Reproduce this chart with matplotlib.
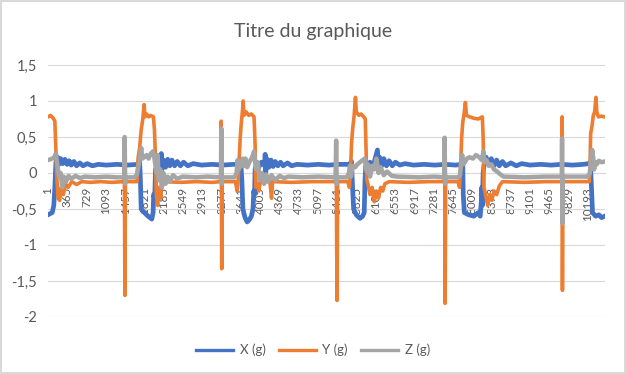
import matplotlib
matplotlib.use("Agg")
import matplotlib.pyplot as plt
from matplotlib.lines import Line2D

plt.rcParams['font.family'] = ['Lato', 'DejaVu Sans']

# values, as (sample index, value) breakpoints
x_idx = [1, 80, 110, 130, 150, 180, 210, 240, 280, 320, 360, 400, 440, 490, 540, 600, 660, 740, 840, 950,
         1100, 1300, 1500, 1690, 1730, 1745, 1760, 1820, 1890, 1960, 1985, 1995, 2015, 2030, 2070, 2120,
         2140, 2150, 2180, 2220, 2260, 2300, 2340, 2390, 2440, 2500, 2560, 2640, 2740, 2900, 3100, 3300,
         3500, 3600, 3640, 3660, 3680, 3720, 3760, 3800, 3840, 3870, 3885, 3900, 3910, 3940, 3980, 4030,
         4090, 4100, 4110, 4130, 4170, 4210, 4250, 4290, 4340, 4390, 4440, 4520, 4600, 4700, 4900, 5100,
         5300, 5500, 5690, 5730, 5750, 5770, 5820, 5890, 5940, 5970, 5985, 6000, 6030, 6080, 6140, 6220,
         6235, 6260, 6300, 6340, 6390, 6440, 6500, 6560, 6640, 6740, 6900, 7100, 7300, 7500, 7700, 7800,
         7830, 7840, 7860, 7940, 8040, 8120, 8160, 8180, 8190, 8200, 8215, 8230, 8270, 8320, 8370, 8420,
         8470, 8520, 8580, 8640, 8740, 8840, 8940, 9100, 9300, 9500, 9700, 9900, 10100, 10210, 10240,
         10260, 10280, 10340, 10400, 10450, 10510]
x_val = [-0.58, -0.55, -0.45, -0.2, 0.15, 0.22, 0.12, 0.2, 0.13, 0.19, 0.12, 0.17, 0.11, 0.16, 0.1, 0.14,
         0.1, 0.13, 0.1, 0.12, 0.11, 0.12, 0.11, 0.12, 0.17, -0.1, -0.5, -0.55, -0.6, -0.64, -0.55, -0.3,
         -0.35, 0.05, 0.1, 0.15, 0.27, 0.05, 0.18, 0.08, 0.19, 0.1, 0.18, 0.1, 0.16, 0.1, 0.15, 0.1, 0.13,
         0.11, 0.12, 0.11, 0.12, 0.12, 0.15, -0.1, -0.5, -0.62, -0.68, -0.65, -0.6, -0.5, -0.25, -0.3, 0.05,
         0.12, 0.08, 0.15, 0.1, 0.26, 0.0, 0.2, 0.08, 0.18, 0.09, 0.16, 0.1, 0.15, 0.1, 0.14, 0.1, 0.12,
         0.11, 0.12, 0.11, 0.12, 0.12, 0.16, -0.2, -0.5, -0.58, -0.63, -0.6, -0.55, -0.1, 0.1, 0.05, 0.15,
         0.1, 0.32, 0.1, 0.22, 0.1, 0.2, 0.1, 0.17, 0.1, 0.15, 0.11, 0.13, 0.11, 0.12, 0.11, 0.12, 0.11,
         0.12, 0.15, -0.3, -0.55, -0.58, -0.6, -0.55, -0.6, -0.4, -0.2, -0.45, 0.0, 0.1, 0.22, 0.12, 0.2,
         0.1, 0.18, 0.1, 0.16, 0.1, 0.14, 0.1, 0.13, 0.11, 0.12, 0.11, 0.12, 0.11, 0.12, 0.13, 0.15, -0.2,
         -0.55, -0.6, -0.58, -0.62, -0.6]

y_idx = [1, 50, 100, 130, 150, 170, 190, 220, 250, 290, 330, 380, 450, 540, 640, 800, 1000, 1200, 1430,
         1440, 1452, 1462, 1680, 1700, 1730, 1760, 1790, 1815, 1830, 1860, 1900, 1940, 1990, 2010, 2030,
         2045, 2070, 2100, 2130, 2150, 2190, 2500, 2800, 3100, 3260, 3270, 3280, 3290, 3540, 3570, 3590,
         3610, 3630, 3650, 3670, 3685, 3700, 3740, 3790, 3840, 3890, 3910, 3925, 3950, 3980, 4010, 4190,
         4220, 4240, 4600, 5000, 5430, 5440, 5450, 5458, 5468, 5660, 5690, 5710, 5730, 5750, 5780, 5805,
         5820, 5870, 5910, 5960, 5990, 6005, 6020, 6040, 6080, 6120, 6160, 6200, 6240, 6280, 6320, 6360,
         6440, 6800, 7200, 7480, 7488, 7498, 7508, 7740, 7770, 7790, 7810, 7830, 7860, 7880, 7900, 7960,
         8040, 8120, 8200, 8215, 8230, 8260, 8300, 8340, 8380, 8420, 8470, 8520, 8580, 9000, 9400, 9700,
         9705, 9712, 9720, 10220, 10235, 10245, 10270, 10295, 10320, 10345, 10360, 10390, 10450, 10510]
y_val = [0.78, 0.8, 0.76, 0.72, 0.3, -0.1, -0.35, -0.38, -0.2, -0.3, -0.15, -0.2, -0.12, -0.16, -0.12,
         -0.13, -0.12, -0.13, -0.12, 0.48, -1.7, -0.12, -0.12, 0.2, 0.35, 0.6, 0.75, 0.95, 0.78, 0.82, 0.78,
         0.8, 0.78, 0.6, 0.2, -0.3, -0.45, -0.2, -0.35, -0.15, -0.12, -0.13, -0.12, -0.13, -0.12, 0.72,
         -1.33, -0.12, -0.12, -0.25, -0.1, 0.2, 0.5, 0.7, 0.85, 1.0, 0.8, 0.85, 0.8, 0.82, 0.78, 0.4, -0.2,
         -0.15, -0.25, -0.12, -0.12, -0.35, -0.12, -0.13, -0.12, -0.12, 0.43, -1.0, -1.77, -0.12, -0.12,
         -0.2, 0.0, 0.4, 0.6, 0.8, 1.05, 0.85, 0.8, 0.82, 0.78, 0.75, 0.3, -0.1, -0.15, -0.3, -0.2, -0.4,
         -0.25, -0.35, -0.2, -0.25, -0.15, -0.12, -0.13, -0.12, -0.12, 0.49, -1.81, -0.12, -0.12, -0.2, 0.1,
         0.5, 0.7, 0.85, 0.98, 0.8, 0.78, 0.76, 0.75, 0.78, 0.5, -0.2, -0.3, -0.45, -0.3, -0.38, -0.25,
         -0.3, -0.18, -0.12, -0.13, -0.12, -0.12, 0.78, -1.63, -0.12, -0.12, 0.2, 0.55, 0.65, 0.8, 0.85,
         1.05, 0.85, 0.78, 0.79, 0.78]

z_idx = [1, 80, 120, 150, 170, 190, 210, 240, 270, 300, 340, 390, 440, 520, 600, 700, 900, 1100, 1300,
         1440, 1448, 1458, 1468, 1640, 1680, 1710, 1740, 1760, 1780, 1820, 1860, 1900, 1940, 1980, 2000,
         2030, 2050, 2070, 2090, 2120, 2150, 2180, 2220, 2260, 2300, 2360, 2440, 2540, 2800, 3000, 3265,
         3272, 3280, 3290, 3520, 3560, 3580, 3600, 3640, 3680, 3700, 3730, 3760, 3800, 3840, 3870, 3890,
         3910, 3930, 3960, 4000, 4040, 4080, 4120, 4160, 4220, 4290, 4370, 4460, 4540, 4800, 5100, 5430,
         5440, 5450, 5460, 5640, 5680, 5700, 5720, 5740, 5770, 5800, 5840, 5890, 5940, 5980, 6000, 6020,
         6040, 6080, 6120, 6160, 6200, 6240, 6280, 6340, 6400, 6490, 6590, 7000, 7300, 7480, 7488, 7498,
         7508, 7740, 7780, 7800, 7820, 7840, 7870, 7910, 7960, 8020, 8080, 8140, 8190, 8220, 8240, 8280,
         8320, 8370, 8420, 8480, 8540, 8600, 9000, 9400, 9700, 9705, 9712, 9720, 10190, 10230, 10250,
         10275, 10295, 10310, 10330, 10360, 10400, 10450, 10510]
z_val = [0.18, 0.2, 0.22, 0.27, 0.15, 0.05, -0.05, 0.0, -0.2, -0.05, -0.12, -0.04, -0.08, -0.04, -0.07,
         -0.05, -0.06, -0.05, -0.06, -0.06, 0.5, -0.15, -0.06, -0.06, -0.02, 0.1, 0.22, 0.35, 0.2, 0.22,
         0.25, 0.2, 0.27, 0.3, 0.25, 0.1, 0.0, 0.25, -0.1, 0.05, -0.2, 0.0, -0.15, -0.05, -0.12, -0.03,
         -0.08, -0.05, -0.06, -0.05, -0.06, 0.62, -0.15, -0.06, -0.06, 0.0, 0.18, 0.05, 0.1, 0.2, 0.1, 0.2,
         0.08, 0.15, 0.2, 0.25, 0.3, 0.15, 0.05, 0.15, -0.1, 0.0, -0.15, -0.02, -0.12, -0.03, -0.1, -0.04,
         -0.07, -0.05, -0.06, -0.05, -0.06, 0.45, -0.15, -0.06, -0.06, 0.0, 0.1, -0.05, 0.05, 0.1, 0.08,
         0.12, 0.15, 0.18, 0.2, 0.1, 0.02, 0.12, -0.05, 0.1, 0.05, 0.2, 0.0, 0.08, -0.03, 0.02, -0.04,
         -0.05, -0.06, -0.05, -0.06, 0.49, -0.15, -0.06, -0.06, -0.03, 0.15, 0.25, 0.12, 0.15, 0.2, 0.22,
         0.2, 0.25, 0.22, 0.18, 0.3, 0.15, 0.18, 0.1, 0.12, 0.05, 0.02, -0.02, -0.05, -0.06, -0.05, -0.05,
         0.48, -0.7, -0.05, -0.05, 0.0, 0.2, 0.32, 0.2, 0.05, 0.15, 0.12, 0.17, 0.15, 0.16]

n_samples = 10515
xtick_pos = list(range(1, n_samples, 364))
ytick_vals = [-2, -1.5, -1, -0.5, 0, 0.5, 1, 1.5]
ytick_labels = ["-2", "-1,5", "-1", "-0,5", "0", "0,5", "1", "1,5"]
series_names = ["X (g)", "Y (g)", "Z (g)"]
colors = ["#4472C4", "#ED7D31", "#A5A5A5"]

fig = plt.figure(figsize=(6.26, 3.74), dpi=100)
fig.patch.set_edgecolor("#D9D9D9")
fig.patch.set_linewidth(1.5)
ax = fig.add_axes([48 / 626, 1 - 317 / 374, 557 / 626, 252 / 374])

ax.plot(x_idx, x_val, color=colors[0], lw=3.4, solid_joinstyle="round")
ax.plot(y_idx, y_val, color=colors[1], lw=2.6, solid_joinstyle="round")
ax.plot(z_idx, z_val, color=colors[2], lw=3.2, solid_joinstyle="round")

# category axis crosses at 0 (set before labels, it resets the ticks)
for s in ["top", "right", "left"]:
    ax.spines[s].set_visible(False)
ax.spines["bottom"].set_position(("data", 0))
ax.spines["bottom"].set_color("#D9D9D9")
ax.spines["bottom"].set_zorder(0.5)

ax.set_xlim(0.5, n_samples + 0.5)
ax.set_ylim(-2, 1.5)
ax.set_yticks(ytick_vals)
ax.set_yticklabels(ytick_labels)
ax.set_xticks(xtick_pos)
ax.set_xticklabels([str(p) for p in xtick_pos])

ax.grid(axis="y", color="#D9D9D9", lw=0.8)
ax.set_axisbelow(True)
ax.tick_params(axis="both", length=0, labelcolor="#595959")
ax.tick_params(axis="x", pad=10, labelrotation=90, labelsize=8.4)
ax.tick_params(axis="y", pad=8, labelsize=10.5)

fig.text(0.5, 1 - 31 / 374, "Titre du graphique", ha="center", va="center",
         fontsize=14, color="#595959")

handles = [Line2D([0], [0], color=c, lw=2.4) for c in colors]
fig.legend(handles, series_names, loc="center", bbox_to_anchor=(0.5, 1 - 350 / 374), ncol=3,
           frameon=False, fontsize=9.5, labelcolor="#595959", handlelength=2.8,
           handletextpad=0.5, columnspacing=1.0)

fig.savefig("out.png", dpi=100)
